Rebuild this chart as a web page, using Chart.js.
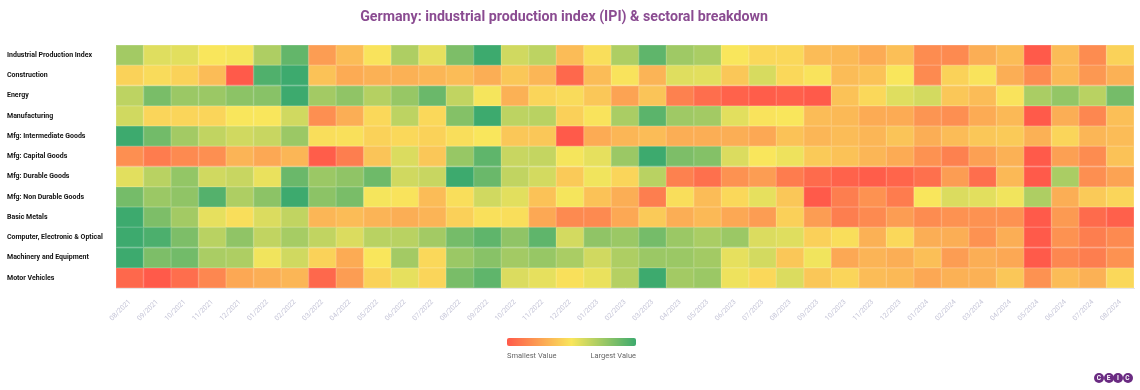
<!DOCTYPE html>
<html>
<head>
<meta charset="utf-8">
<title>Germany IPI heatmap</title>
<script src="https://cdn.jsdelivr.net/npm/chart.js@4.4.1/dist/chart.umd.min.js"></script>
<style>
  html, body { margin: 0; padding: 0; background: #fff; }
  #wrap { position: relative; width: 1140px; height: 390px; font-family: Roboto, "Noto Sans", sans-serif; }
  #title {
    position: absolute; left: 0; top: 8px; width: 1128px; text-align: center;
    font-size: 14.2px; line-height: 17px; font-weight: bold; color: #8a4b91;
  }
  #scale-bar {
    position: absolute; left: 507px; top: 338px; width: 129px; height: 8px; border-radius: 2px;
    background: linear-gradient(to right, #ff5a4a, #f9e65c, #3daa6e);
  }
  .scale-label { position: absolute; top: 351px; font-size: 7.5px; color: #666; }
  #logo { position: absolute; left: 1094px; top: 373px; height: 10px; display: flex; }
  #logo span {
    width: 10px; height: 10px; border-radius: 50%; background: #6a2b82; color: #fff;
    font-size: 6.5px; font-weight: bold; line-height: 10px; text-align: center; margin-right: -0.5px;
  }
</style>
</head>
<body>
<div id="wrap">
  <canvas id="heatmap" width="1140" height="390"></canvas>
  <div id="title">Germany: industrial production index (IPI) &amp; sectoral breakdown</div>
  <div id="scale-bar"></div>
  <div class="scale-label" style="left:507px">Smallest Value</div>
  <div class="scale-label" style="left:586px;width:50px;text-align:right">Largest Value</div>
  <div id="logo"><span>C</span><span>E</span><span>I</span><span>C</span></div>
</div>
<script>
// ===============================
// Data (relative level within each row)
// ===============================
const months = [
  "08/2021", "09/2021", "10/2021", "11/2021", "12/2021",
  "01/2022", "02/2022", "03/2022", "04/2022", "05/2022", "06/2022", "07/2022",
  "08/2022", "09/2022", "10/2022", "11/2022", "12/2022",
  "01/2023", "02/2023", "03/2023", "04/2023", "05/2023", "06/2023", "07/2023",
  "08/2023", "09/2023", "10/2023", "11/2023", "12/2023",
  "01/2024", "02/2024", "03/2024", "04/2024", "05/2024", "06/2024", "07/2024", "08/2024"
];

const sectors = [
  "Industrial Production Index", "Construction", "Energy", "Manufacturing",
  "Mfg: Intermediate Goods", "Mfg: Capital Goods", "Mfg: Durable Goods",
  "Mfg: Non Durable Goods", "Basic Metals", "Computer, Electronic & Optical",
  "Machinery and Equipment", "Motor Vehicles"
];

const ipi          = [73, 57, 56, 50, 51, 70, 90, 24, 35, 49, 70, 55, 83, 100, 61, 66, 35, 47, 70, 91, 74, 71, 50, 45, 45, 35, 34, 29, 36, 18, 17, 30, 35, 0, 35, 18, 43];
const construction = [43, 46, 43, 35, 0, 95, 100, 37, 29, 31, 31, 33, 35, 30, 39, 33, 5, 35, 49, 32, 57, 56, 39, 59, 45, 49, 35, 37, 50, 17, 43, 49, 30, 18, 34, 22, 31];
const energy       = [66, 84, 75, 75, 79, 80, 100, 73, 78, 68, 76, 88, 65, 51, 31, 44, 46, 39, 26, 38, 14, 7, 3, 1, 2, 0, 37, 45, 57, 60, 39, 35, 49, 71, 77, 67, 85];
const manufacturing = [61, 44, 44, 44, 50, 50, 61, 19, 30, 45, 66, 45, 81, 100, 66, 67, 42, 49, 71, 92, 74, 73, 56, 49, 50, 35, 34, 29, 29, 21, 19, 29, 34, 0, 30, 16, 36];
const intermediate = [100, 86, 73, 65, 61, 63, 75, 47, 48, 43, 45, 43, 47, 50, 39, 39, 0, 29, 33, 35, 30, 30, 30, 28, 37, 33, 35, 33, 38, 30, 35, 39, 40, 31, 44, 33, 35];
const capital      = [19, 12, 17, 19, 32, 28, 33, 1, 13, 38, 58, 39, 76, 91, 63, 64, 51, 55, 75, 100, 83, 81, 58, 50, 53, 40, 37, 33, 29, 20, 14, 25, 31, 0, 25, 18, 37];
const durable      = [56, 67, 77, 61, 63, 54, 88, 75, 78, 87, 61, 63, 100, 88, 65, 60, 40, 52, 44, 67, 14, 8, 20, 24, 12, 6, 3, 1, 4, 8, 24, 7, 34, 0, 71, 19, 26];
const nonDurable   = [85, 75, 78, 94, 70, 79, 100, 79, 84, 51, 49, 35, 47, 61, 56, 37, 51, 37, 30, 13, 47, 35, 45, 55, 39, 0, 13, 20, 12, 50, 58, 56, 52, 70, 30, 40, 44];
const basicMetals  = [100, 83, 73, 55, 47, 58, 65, 33, 35, 32, 30, 32, 42, 48, 47, 28, 17, 17, 28, 40, 30, 34, 28, 24, 42, 24, 13, 17, 24, 18, 20, 20, 20, 0, 23, 6, 2];
const electronics  = [100, 96, 83, 67, 78, 65, 72, 65, 58, 67, 67, 73, 85, 91, 78, 91, 60, 78, 75, 85, 75, 71, 75, 58, 57, 42, 47, 31, 45, 30, 30, 20, 30, 0, 20, 13, 17];
const machinery    = [100, 83, 86, 71, 70, 52, 61, 43, 29, 50, 73, 45, 75, 80, 73, 76, 71, 61, 70, 75, 75, 73, 55, 60, 39, 52, 28, 32, 30, 36, 24, 30, 28, 0, 16, 13, 20];
const motorVehicles = [5, 0, 7, 16, 28, 30, 33, 5, 24, 43, 55, 44, 84, 91, 58, 55, 48, 54, 68, 100, 73, 75, 53, 45, 58, 39, 44, 35, 34, 28, 31, 31, 39, 20, 35, 31, 45];

const seriesList = [
  ipi, construction, energy, manufacturing, intermediate, capital,
  durable, nonDurable, basicMetals, electronics, machinery, motorVehicles
];

// ===============================
// Colour scale: smallest (red) -> yellow -> largest (green), per row
// ===============================
const RED = [255, 90, 74];
const YELLOW = [249, 230, 92];
const GREEN = [61, 170, 110];
const WHITE = [255, 255, 255];

function mix(a, b, t) {
  return a.map((c, i) => Math.round(c + (b[i] - c) * t));
}

function cellRgb(vals, idx) {
  const min = Math.min(...vals);
  const max = Math.max(...vals);
  const t = (vals[idx] - min) / (max - min);
  return t < 0.5 ? mix(RED, YELLOW, t * 2) : mix(YELLOW, GREEN, (t - 0.5) * 2);
}

function toCss(rgb) {
  return `rgb(${rgb[0]}, ${rgb[1]}, ${rgb[2]})`;
}

// ===============================
// Chart
// ===============================
const datasets = seriesList.map((vals, r) => ({
  label: sectors[r],
  data: vals.map(() => [r, r + 1]),
  backgroundColor: (ctx) => toCss(cellRgb(vals, ctx.dataIndex)),
  borderColor: (ctx) => toCss(mix(cellRgb(vals, ctx.dataIndex), WHITE, 0.18)),
  borderWidth: 1,
  borderSkipped: false,
  barPercentage: 1,
  categoryPercentage: 1,
  grouped: false
}));

new Chart(document.getElementById("heatmap"), {
  type: "bar",
  data: { labels: months, datasets: datasets },
  options: {
    responsive: false,
    animation: false,
    layout: { padding: { left: 7, right: 6, top: 45, bottom: 57 } },
    plugins: {
      legend: { display: false },
      tooltip: { enabled: false }
    },
    scales: {
      x: {
        type: "category",
        grid: { display: false },
        border: { color: "#e6e6e6" },
        ticks: {
          autoSkip: false,
          maxRotation: 45,
          minRotation: 45,
          color: "#c6c6d8",
          font: { family: "Roboto", size: 7 },
          padding: 2
        },
        afterFit: (scale) => { scale.height = 45; }
      },
      y: {
        type: "linear",
        min: 0,
        max: sectors.length,
        reverse: true,
        grid: { display: false },
        border: { display: false },
        afterBuildTicks: (scale) => {
          scale.ticks = sectors.map((s, i) => ({ value: i + 0.5 }));
        },
        ticks: {
          autoSkip: false,
          crossAlign: "far",
          color: "#111",
          font: { family: "Roboto", size: 7, weight: "bold" },
          callback: (value, index) => sectors[index]
        },
        afterFit: (scale) => { scale.width = 109; }
      }
    }
  }
});
</script>
</body>
</html>
